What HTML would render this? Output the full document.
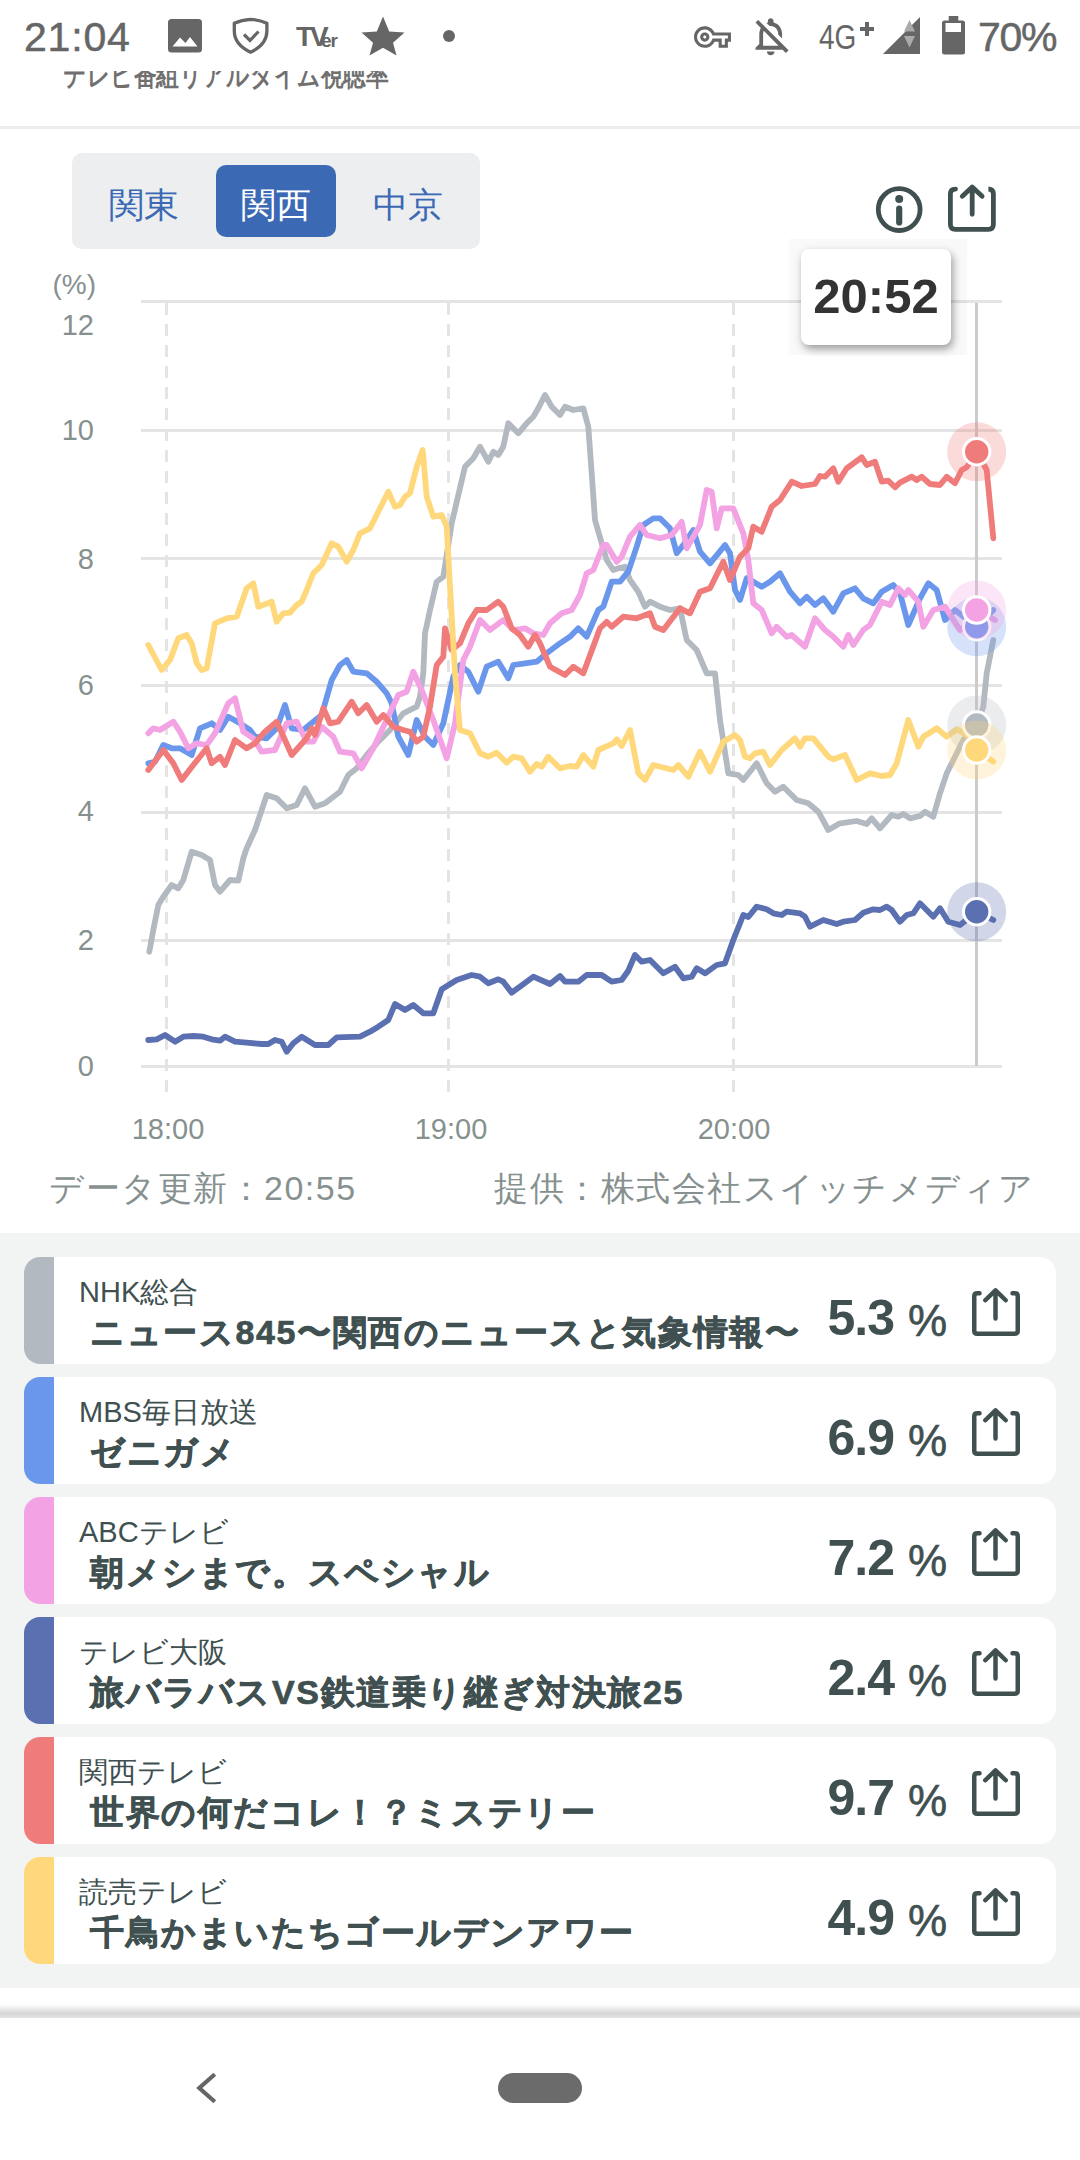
<!DOCTYPE html>
<html><head><meta charset="utf-8">
<style>
html,body{margin:0;padding:0;}
body{width:1080px;height:2160px;position:relative;overflow:hidden;background:#fff;font-family:"Liberation Sans",sans-serif;}
.abs{position:absolute;}
.sb{position:absolute;top:0;left:0;width:1080px;height:71px;background:#fff;}
.sbt{position:absolute;color:#666;font-size:41px;line-height:41px;top:17px;-webkit-text-stroke:0.5px #666;}
.ylab{position:absolute;right:986px;color:#86918f;font-size:29px;line-height:30px;text-align:right;}
.xlab{position:absolute;color:#86918f;font-size:29px;line-height:30px;width:120px;text-align:center;}
.card{position:absolute;left:24px;width:1032px;height:107px;background:#fff;border-radius:16px;overflow:hidden;}
.bar{position:absolute;left:0;top:0;width:30px;height:107px;}
.ch{position:absolute;left:55px;top:19px;font-size:29px;line-height:32px;color:#405050;}
.ti{position:absolute;left:66px;top:55px;font-size:34px;line-height:40px;color:#405050;font-weight:bold;white-space:nowrap;letter-spacing:1.6px;-webkit-text-stroke:0.7px #405050;}
.pct{position:absolute;right:162px;top:34px;font-size:50px;line-height:54px;color:#405050;font-weight:bold;letter-spacing:-1px;}
.pc{position:absolute;left:884px;top:40px;font-size:44px;line-height:48px;color:#405050;-webkit-text-stroke:0.6px #405050;}
.sh{position:absolute;left:946px;top:29px;width:52px;height:52px;}
</style></head><body>
<div class="abs" style="left:63px;top:58px;font-size:30px;line-height:34px;color:#707070;font-weight:bold;letter-spacing:0px;transform:scaleX(0.76);transform-origin:0 0;white-space:nowrap">テレビ番組リアルタイム視聴率</div>
<div class="sb"></div>
<svg class="abs" style="left:0;top:0" width="1080" height="64" viewBox="0 0 1080 64">
<g fill="#666">
<rect x="168" y="19" width="34" height="33.5" rx="3.5"/>
</g>
<path d="M172.5 46.5 L180 37.5 L185.5 43 L190 37 L197.5 46.5 Z" fill="#fff"/>
<path d="M250.6 19.3 Q259.5 19.8 266.9 23.3 V31 Q266.9 44.5 250.6 52.2 Q234.3 44.5 234.3 31 V23.3 Q241.7 19.8 250.6 19.3 Z" fill="none" stroke="#666" stroke-width="3.3" stroke-linejoin="round"/>
<path d="M244 34.5 L250 40.5 L258.5 31.5" fill="none" stroke="#666" stroke-width="3.2"/>
<text x="296" y="46" font-family="Liberation Sans" font-weight="bold" font-size="28" fill="#666" letter-spacing="-3">TV</text>
<text x="321" y="46.5" font-family="Liberation Sans" font-weight="bold" font-size="19" fill="#666" letter-spacing="-1">er</text>
<path d="M383 16.5 L389.2 31.5 L404.5 32.5 L393 42.8 L396.5 55.4 L383 47.8 L369.5 55.4 L373 42.8 L361.5 32.5 L376.8 31.5 Z" fill="#666"/>
<circle cx="449" cy="36" r="6" fill="#666"/>
<path transform="translate(694 18.6) scale(1.54)" fill="#666" d="M22 19h-6v-4h-2.68c-1.14 2.42-3.6 4-6.32 4-3.860 0-7-3.14-7-7s3.14-7 7-7c2.72 0 5.17 1.58 6.32 4H24v6h-2v4zm-4-2h2v-4h2v-2H11.94l-.23-.67C11.01 8.340 9.110 7 7 7c-2.76 0-5 2.24-5 5s2.24 5 5 5c2.11 0 4.01-1.34 4.710-3.33l.23-.67H18v4zM7 15c-1.65 0-3-1.35-3-3s1.35-3 3-3 3 1.35 3 3-1.35 3-3 3zm0-4c-.55 0-1 .45-1 1s.45 1 1 1 1-.45 1-1-.45-1-1-1z"/>
<path transform="translate(747.9 13.55) scale(1.9)" fill="#666" d="M12 22c1.1 0 2-.9 2-2h-4c0 1.1.9 2 2 2zm0-15.5c2.49 0 4 2.02 4 4.5v.1l2 2V11c0-3.07-1.64-5.64-4.5-6.32V4c0-.83-.67-1.5-1.5-1.5s-1.5.67-1.5 1.5v.68c-.24.06-.47.15-.69.23l1.64 1.640c.18-.02.36-.05.55-.05zM5.41 3.35L4 4.76l2.81 2.81C6.29 8.57 6 9.74 6 11v5l-2 2v1h14.24l1.74 1.74 1.41-1.41L5.41 3.35zM16 17H8v-6c0-.68.12-1.32.34-1.9L16 16.76V17z"/>
<path d="M883 54 L920 17 V54 Z" fill="#666"/>
<path d="M909.5 20 L915 31.5 H904 Z M904 36 H915 L909.5 47.5 Z" fill="#aaa"/>
<rect x="942" y="20.5" width="23" height="34" rx="2.5" fill="#666"/>
<rect x="948.7" y="16" width="9.6" height="6" fill="#666"/>
<rect x="945.5" y="23" width="15.5" height="9" fill="#fff"/>
<text x="819" y="49" font-family="Liberation Sans" font-size="35" fill="#666" transform="translate(819 0) scale(0.8 1) translate(-819 0)">4G</text>
<path d="M867 22 V36 M860 29 H874" stroke="#666" stroke-width="4"/>
</svg>
<div class="sbt" style="left:24px;letter-spacing:0.8px">21:04</div>
<div class="sbt" style="left:978px;letter-spacing:-1.3px">70%</div>
<div class="abs" style="left:0;top:126px;width:1080px;height:3px;background:#ececec"></div>
<div class="abs" style="left:72px;top:153px;width:408px;height:96px;background:#eceeef;border-radius:10px"></div>
<div class="abs" style="left:216px;top:165px;width:120px;height:72px;background:#3b69b4;border-radius:10px"></div>
<div class="abs" style="left:72px;top:183px;width:144px;text-align:center;font-size:35px;line-height:44px;color:#3b69b4">関東</div>
<div class="abs" style="left:216px;top:183px;width:120px;text-align:center;font-size:35px;line-height:44px;color:#fff">関西</div>
<div class="abs" style="left:336px;top:183px;width:144px;text-align:center;font-size:35px;line-height:44px;color:#3b69b4">中京</div>
<svg width="1080" height="1110" viewBox="0 0 1080 1110" style="position:absolute;left:0;top:0">
<line x1="141" y1="301.5" x2="1002" y2="301.5" stroke="#e4e4e4" stroke-width="3"/>
<line x1="141" y1="430.5" x2="1002" y2="430.5" stroke="#e4e4e4" stroke-width="3"/>
<line x1="141" y1="558.5" x2="1002" y2="558.5" stroke="#e4e4e4" stroke-width="3"/>
<line x1="141" y1="685.5" x2="1002" y2="685.5" stroke="#e4e4e4" stroke-width="3"/>
<line x1="141" y1="812.5" x2="1002" y2="812.5" stroke="#e4e4e4" stroke-width="3"/>
<line x1="141" y1="940.5" x2="1002" y2="940.5" stroke="#e4e4e4" stroke-width="3"/>
<line x1="141" y1="1066.5" x2="1002" y2="1066.5" stroke="#e4e4e4" stroke-width="3"/>
<line x1="166.5" y1="303" x2="166.5" y2="1096" stroke="#e4e4e4" stroke-width="3" stroke-dasharray="12 9"/>
<line x1="448.5" y1="303" x2="448.5" y2="1096" stroke="#e4e4e4" stroke-width="3" stroke-dasharray="12 9"/>
<line x1="733.5" y1="303" x2="733.5" y2="1096" stroke="#e4e4e4" stroke-width="3" stroke-dasharray="12 9"/>
<line x1="976.5" y1="303" x2="976.5" y2="1066" stroke="#cbcbcb" stroke-width="3"/>
<polyline points="149.3,951.7 153.3,930 158.3,905 163.3,896.7 171.7,885 178.3,888.3 183.3,880 191.7,851.7 201.7,855 210,860 215,885 220,891.7 230,880 238.3,880.7 243.3,858.3 246.7,848.3 255,830 266.7,795 276.7,798.3 286.7,808.3 296.7,805 305,788.3 315,806.7 325,803.3 340,791.7 348.3,775 356.7,768.3 366.7,755 376.7,743.3 390,730 403.3,713.3 416.7,706.7 420,696.7 423.3,673.3 425,633.3 430,610 436.7,581.7 443.3,576.7 451.7,523.3 465,466.7 473.3,458.3 480,446.7 488.3,461.7 493.3,451.7 498.3,455 503.3,446.7 508.3,423.3 518.3,433.3 526.7,423.3 533.3,416.7 538.3,408.3 545,395 551.7,406.7 560,415 565,406.7 573.3,410 583.3,408.3 588.3,426.7 591.7,473.3 595,520 601.7,543.3 606.7,560 613.3,570 618.3,568.3 625,566.7 630,580 638.3,591.7 645,606.7 650,601.7 660,606.7 670,610 680,608.3 686.7,640 696.7,650 706.7,673.3 715,673.3 720,720 728.3,773.3 738.3,775 743.3,780 756.7,763.3 766.7,783.3 775,791.7 783.3,786.7 796.7,800 808.3,803.3 818.3,811.7 828.3,830 840,823.3 856.7,821 866.7,824 871.7,818.3 880,828.3 891.7,815 898.3,816.7 903.3,814 910,818.3 920,816 925,811.7 933.3,816.7 940,793.3 946.7,773.3 955,756.7 963.3,740 976.7,725 983.3,706.7 986.7,673.3 993.3,640" fill="none" stroke="#b3b9c0" stroke-width="5.8" stroke-linejoin="round" stroke-linecap="round"/>
<polyline points="148.3,763.3 155,761.7 163.3,745 171.7,748.3 180,748.3 191.7,755 200,728.3 211.7,723.3 220,730 228.3,716.7 240,723.3 250,730 255,736.7 266.7,738.3 276.7,728.3 285,705 291.7,728.3 303.3,730 313.3,721.7 321.7,715 331.7,680 340,665 346.7,660 353.3,671.7 366.7,673.3 376.7,681.7 386.7,693.3 391.7,703.3 398.3,736.7 408.3,755 416.7,720 425,736.7 433.3,745 443.3,723.3 453.3,676.7 460,665 468.3,671.7 478.3,691.7 486.7,666.7 498.3,661.7 508.3,678.3 513.3,665 525,663.3 536.7,661.7 546.7,653.3 560,643.3 570,636.7 578.3,628.3 586.7,636.7 598.3,610 603.3,606.7 611.7,581.7 620,581.7 628.3,571.7 636.7,546.7 643.3,525 653.3,518.3 660,518.3 670,528.3 676.7,553.3 683.3,545 693.3,530 700,551.7 710,563.3 718.3,553.3 725,545 730,553.3 735,590 740,600 746.7,578.3 753.3,581.7 761.7,586.7 770,581.7 780,573.3 790,591.7 800,603.3 806.7,596.7 815,605 823.3,598.3 833.3,611.7 843.3,593.3 855,588.3 863.3,598.3 873.3,603.3 881.7,591.7 893.3,585 900,593.3 908.3,625 920,598.3 928.3,583.3 936.7,590 945,620 955,610 976.7,626.7 993.3,610" fill="none" stroke="#6a97ec" stroke-width="5.8" stroke-linejoin="round" stroke-linecap="round"/>
<polyline points="148.3,733.3 153.3,728.3 160,730 173.3,721.7 180,731.7 188.3,748.3 196.7,743.3 206.7,745 215,733.3 228.3,703.3 235,698.3 243.3,731.7 253.3,738.3 261.7,751.7 275,750 286.7,723.3 296.7,721.7 306.7,741.7 313.3,741.7 321.7,726.7 333.3,736.7 340,751.7 353.3,753.3 361.7,768.3 373.3,748.3 385,723.3 398.3,695 406.7,691.7 413.3,671.7 421.7,690 433.3,720 446.7,758.3 455,723.3 463.3,660 470,646.7 480,620 490,630 503.3,620 513.3,630 525,628.3 533.3,633.3 543.3,635 550,623.3 561.7,613.3 571.7,610 580,595 586.7,573.3 593.3,570 603.3,545 606.7,545 616.7,561.7 621.7,556.7 630,536.7 640,525 646.7,535 660,538.3 671.7,535 681.7,521.7 686.7,548.3 700,525 706.7,490 711.7,491.7 716.7,528.3 721.7,508.3 733.3,508.3 743.3,533.3 748.3,560 753.3,603.3 761.7,610 771.7,633.3 776.7,626.7 786.7,636.7 791.7,635 805,646.7 815,618.3 825,630 833.3,636.7 843.3,646.7 848.3,635 853.3,645 863.3,630 870,625 881.7,601.7 890,605 898.3,588.3 905,595 908.3,590 918.3,601.7 923.3,626.7 933.3,610 945,606.7 960,630 973.3,620 976.7,610 995,620" fill="none" stroke="#f3a2e3" stroke-width="5.8" stroke-linejoin="round" stroke-linecap="round"/>
<polyline points="148.3,1040 156.7,1039.3 165,1035 175,1041.7 183.3,1036.7 193.3,1036 203.3,1036.7 211.7,1039.3 220,1040.7 225,1036.7 235,1041.7 246.7,1042.7 261.7,1044 268.3,1044 275,1040 281.7,1041.7 286.7,1051.7 293.3,1043.3 301.7,1036.7 315,1045 328.3,1045 336.7,1037.3 360,1036.7 370,1031.7 378.3,1026.7 388.3,1020 395,1004 405,1010 413.3,1005 423.3,1013.3 433.3,1013.3 441.7,989.3 456.7,980 471.7,975 480,976.7 488.3,983.3 498.3,979.3 503.3,981.7 511.7,992.7 520,986.7 533.3,976.7 550,984 560,976 565,981.7 578.3,981.7 586.7,975 601.7,975 611.7,981.7 621.7,980 628.3,970.7 635,955 641.7,961.7 650,960 663.3,973.3 675,966.7 683.3,978.3 691.7,976.7 696.7,968.3 705,973.3 716.7,965 725,963.3 733.3,940 743.3,915 748.3,917 756.7,906.7 766.7,909.3 773.3,913.3 781.7,915 786.7,911.7 800,913.3 805,916.7 810,926.7 823.3,920 836.7,924 843.3,921.7 855,920 863.3,912.7 873.3,909.3 880,910 886.7,906.7 891.7,910 900,921.7 906.7,915 913.3,913.3 920,903.3 933.3,916.7 940,908.3 948.3,921.7 960,925 976.7,911.7 993.3,920" fill="none" stroke="#5b70b1" stroke-width="5.8" stroke-linejoin="round" stroke-linecap="round"/>
<polyline points="148.3,770 163.3,750 173.3,763.3 181.7,780 193.3,765 206.7,748.3 211.7,763.3 220,756.7 225,765 235,740 246.7,748.3 255,743.3 265,731.7 276.7,721.7 291.7,755 306.7,738.3 311.7,728.3 315,735 323.3,708.3 330,723.3 338.3,721.7 351.7,701.7 358.3,713.3 366.7,705 376.7,721.7 383.3,715 393.3,726.7 403.3,730 410,731.7 416.7,741.7 423.3,736.7 430,706.7 436.7,665 443.3,656.7 445,628.3 451.7,650 460,643.3 468.3,623.3 476.7,610 486.7,610 498.3,601.7 503.3,606.7 511.7,628.3 520,635 528.3,646.7 535,635 540,643.3 550,666.7 565,675 573.3,666.7 583.3,673.3 600,628.3 606.7,621.7 611.7,626.7 623.3,616.7 636.7,618.3 650,613.3 655,626.7 663.3,630 680,608.3 690,613.3 700,591.7 710,588.3 723.3,561.7 730,580 740,556.7 748.3,548.3 753.3,526.7 761.7,531.7 771.7,506.7 780,500 791.7,481.7 801.7,486 815,484 820,476 825,476.7 833.3,468.3 838.3,481.7 846.7,468.3 861.7,457.3 866.7,465 875,461.7 881.7,481.7 888.3,480.7 895,487.3 900,482.7 911.7,476.7 916.7,480 921.7,476.7 930,484 940,485 946.7,476.7 955,483.3 961.7,470 966.7,467.3 976.7,451.7 986.7,470 993.3,538.3" fill="none" stroke="#f07b7b" stroke-width="5.8" stroke-linejoin="round" stroke-linecap="round"/>
<polyline points="148.3,645 161.7,670 170,660 178.3,638.3 186.7,635 191.7,643.3 196.7,663.3 201.7,670 206.7,668.3 215,623.3 226.7,618.3 236.7,616.7 246.7,588.3 253.3,583.3 258.3,606.7 271.7,601.7 276.7,621.7 283.3,613.3 290,612.7 296.7,605 301.7,601.7 306.7,590 313.3,573.3 321.7,565 331.7,543.3 338.3,546.7 346.7,561.7 353.3,550 360,533.3 370,528.3 380,508.3 388.3,491.7 395,506.7 400,505 405,496.7 410,493.3 416.7,466.7 422.7,450 426.7,496.7 433.3,516.7 441.7,515 446.7,526.7 450,586.7 455,673.3 460,730 470,733.3 480,753.3 488.3,756.7 496.7,752.7 506.7,762.7 513.3,756.7 521.7,758.3 530,771.7 536.7,764 541.7,766.7 548.3,756.7 560,768.3 570,766 576.7,766.7 583.3,755 593.3,766.7 598.3,750 613.3,743.3 616.7,739.3 621.7,746 630,730 638.3,773.3 645,780 653.3,765 673.3,770 678.3,765 688.3,776.7 700,751.7 710,771.7 723.3,741.7 735,735 740,740 745,756.7 750,758.3 755,753.3 763.3,751.7 770,765 781.7,750 795,738.3 800,746.7 805,738.3 813.3,738.3 828.3,756.7 833.3,759.3 845,755 856.7,780 870,773.3 881.7,776 890,775 896.7,763.3 908.3,720 918.3,746.7 923.3,736.7 936.7,728.3 946.7,736.7 956.7,729.3 966.7,735 976.7,750 993.3,761.7" fill="none" stroke="#ffd87c" stroke-width="5.8" stroke-linejoin="round" stroke-linecap="round"/>
<circle cx="976.7" cy="725" r="29.5" fill="#b3b9c0" fill-opacity="0.28"/>
<circle cx="976.7" cy="725" r="13.2" fill="#b3b9c0" stroke="#fff" stroke-width="3"/>
<circle cx="976.7" cy="626.7" r="29.5" fill="#6a97ec" fill-opacity="0.28"/>
<circle cx="976.7" cy="626.7" r="13.2" fill="#6a97ec" stroke="#fff" stroke-width="3"/>
<circle cx="976.7" cy="610" r="29.5" fill="#f3a2e3" fill-opacity="0.28"/>
<circle cx="976.7" cy="610" r="13.2" fill="#f3a2e3" stroke="#fff" stroke-width="3"/>
<circle cx="976.7" cy="911.7" r="29.5" fill="#5b70b1" fill-opacity="0.28"/>
<circle cx="976.7" cy="911.7" r="13.2" fill="#5b70b1" stroke="#fff" stroke-width="3"/>
<circle cx="976.7" cy="451.7" r="29.5" fill="#f07b7b" fill-opacity="0.28"/>
<circle cx="976.7" cy="451.7" r="13.2" fill="#f07b7b" stroke="#fff" stroke-width="3"/>
<circle cx="976.7" cy="750" r="29.5" fill="#ffd87c" fill-opacity="0.28"/>
<circle cx="976.7" cy="750" r="13.2" fill="#ffd87c" stroke="#fff" stroke-width="3"/>
<circle cx="899.2" cy="209.6" r="20.9" fill="none" stroke="#405050" stroke-width="4.8"/><circle cx="899.2" cy="199" r="4" fill="#405050"/><path d="M899.2 208.5 V222.5" stroke="#405050" stroke-width="6.2" stroke-linecap="round"/>
<path d="M955.5 189.1 H955.4 Q950.4 189.1 950.4 194.1 V224.3 Q950.4 229.3 955.4 229.3 H988.4 Q993.4 229.3 993.4 224.3 V194.1 Q993.4 189.1 988.4 189.1 H989.9" fill="none" stroke="#405050" stroke-width="4.8" stroke-linecap="round"/><path d="M972.2 214.3 V188.5 M962.3 196.3 L972.2 186.9 L982.1 196.3" fill="none" stroke="#405050" stroke-width="4.8" stroke-linecap="round" stroke-linejoin="round"/>
</svg>
<div class="ylab" style="top:270px;font-size:28px;right:984px">(%)</div>
<div class="ylab" style="top:310px">12</div>
<div class="ylab" style="top:415px">10</div>
<div class="ylab" style="top:544px">8</div>
<div class="ylab" style="top:670px">6</div>
<div class="ylab" style="top:796px">4</div>
<div class="ylab" style="top:925px">2</div>
<div class="ylab" style="top:1051px">0</div>
<div class="xlab" style="left:108px;top:1114px">18:00</div>
<div class="xlab" style="left:391px;top:1114px">19:00</div>
<div class="xlab" style="left:674px;top:1114px">20:00</div>
<div class="abs" style="left:789px;top:239px;width:178px;height:116px;background:rgba(0,0,0,0.025)"></div>
<div class="abs" style="left:801px;top:249px;width:150px;height:96px;background:#fff;border-radius:8px;box-shadow:2px 4px 9px rgba(0,0,0,0.38)"></div>
<div class="abs" style="left:801px;top:270px;width:150px;text-align:center;font-size:49px;line-height:52px;font-weight:bold;color:#333">20:52</div>
<div class="abs" style="left:49px;top:1168px;font-size:34px;line-height:40px;color:#86918f;letter-spacing:1.5px">データ更新：20:55</div>
<div class="abs" style="left:494px;top:1168px;font-size:34px;line-height:40px;color:#86918f;letter-spacing:1.5px">提供：株式会社スイッチメディア</div>
<div class="abs" style="left:0;top:1233px;width:1080px;height:755px;background:#f2f3f3"></div>
<div class="card" style="top:1257px"><div class="bar" style="background:#b3b9c0"></div>
<div class="ch">NHK総合</div><div class="ti">ニュース845〜関西のニュースと気象情報〜</div>
<div class="pct">5.3</div><div class="pc">%</div><div class="sh"><svg width="52" height="52" viewBox="0 0 52 52"><path d="M9.5 7.25 H7.25 Q4.25 7.25 4.25 10.25 V44.75 Q4.25 47.75 7.25 47.75 H44.75 Q47.75 47.75 47.75 44.75 V10.25 Q47.75 7.25 44.75 7.25 H42.5" fill="none" stroke="#405050" stroke-width="4.5" stroke-linecap="round"/><path d="M25.5 32.5 V5 M15.25 14.25 L25.5 4.3 L35.75 14.25" fill="none" stroke="#405050" stroke-width="4.5" stroke-linecap="round" stroke-linejoin="round"/></svg></div></div>
<div class="card" style="top:1377px"><div class="bar" style="background:#6a97ec"></div>
<div class="ch">MBS毎日放送</div><div class="ti">ゼニガメ</div>
<div class="pct">6.9</div><div class="pc">%</div><div class="sh"><svg width="52" height="52" viewBox="0 0 52 52"><path d="M9.5 7.25 H7.25 Q4.25 7.25 4.25 10.25 V44.75 Q4.25 47.75 7.25 47.75 H44.75 Q47.75 47.75 47.75 44.75 V10.25 Q47.75 7.25 44.75 7.25 H42.5" fill="none" stroke="#405050" stroke-width="4.5" stroke-linecap="round"/><path d="M25.5 32.5 V5 M15.25 14.25 L25.5 4.3 L35.75 14.25" fill="none" stroke="#405050" stroke-width="4.5" stroke-linecap="round" stroke-linejoin="round"/></svg></div></div>
<div class="card" style="top:1497px"><div class="bar" style="background:#f3a2e3"></div>
<div class="ch">ABCテレビ</div><div class="ti">朝メシまで。スペシャル</div>
<div class="pct">7.2</div><div class="pc">%</div><div class="sh"><svg width="52" height="52" viewBox="0 0 52 52"><path d="M9.5 7.25 H7.25 Q4.25 7.25 4.25 10.25 V44.75 Q4.25 47.75 7.25 47.75 H44.75 Q47.75 47.75 47.75 44.75 V10.25 Q47.75 7.25 44.75 7.25 H42.5" fill="none" stroke="#405050" stroke-width="4.5" stroke-linecap="round"/><path d="M25.5 32.5 V5 M15.25 14.25 L25.5 4.3 L35.75 14.25" fill="none" stroke="#405050" stroke-width="4.5" stroke-linecap="round" stroke-linejoin="round"/></svg></div></div>
<div class="card" style="top:1617px"><div class="bar" style="background:#5b70b1"></div>
<div class="ch">テレビ大阪</div><div class="ti">旅バラバスVS鉄道乗り継ぎ対決旅25</div>
<div class="pct">2.4</div><div class="pc">%</div><div class="sh"><svg width="52" height="52" viewBox="0 0 52 52"><path d="M9.5 7.25 H7.25 Q4.25 7.25 4.25 10.25 V44.75 Q4.25 47.75 7.25 47.75 H44.75 Q47.75 47.75 47.75 44.75 V10.25 Q47.75 7.25 44.75 7.25 H42.5" fill="none" stroke="#405050" stroke-width="4.5" stroke-linecap="round"/><path d="M25.5 32.5 V5 M15.25 14.25 L25.5 4.3 L35.75 14.25" fill="none" stroke="#405050" stroke-width="4.5" stroke-linecap="round" stroke-linejoin="round"/></svg></div></div>
<div class="card" style="top:1737px"><div class="bar" style="background:#f07b7b"></div>
<div class="ch">関西テレビ</div><div class="ti">世界の何だコレ！？ミステリー</div>
<div class="pct">9.7</div><div class="pc">%</div><div class="sh"><svg width="52" height="52" viewBox="0 0 52 52"><path d="M9.5 7.25 H7.25 Q4.25 7.25 4.25 10.25 V44.75 Q4.25 47.75 7.25 47.75 H44.75 Q47.75 47.75 47.75 44.75 V10.25 Q47.75 7.25 44.75 7.25 H42.5" fill="none" stroke="#405050" stroke-width="4.5" stroke-linecap="round"/><path d="M25.5 32.5 V5 M15.25 14.25 L25.5 4.3 L35.75 14.25" fill="none" stroke="#405050" stroke-width="4.5" stroke-linecap="round" stroke-linejoin="round"/></svg></div></div>
<div class="card" style="top:1857px"><div class="bar" style="background:#ffd87c"></div>
<div class="ch">読売テレビ</div><div class="ti">千鳥かまいたちゴールデンアワー</div>
<div class="pct">4.9</div><div class="pc">%</div><div class="sh"><svg width="52" height="52" viewBox="0 0 52 52"><path d="M9.5 7.25 H7.25 Q4.25 7.25 4.25 10.25 V44.75 Q4.25 47.75 7.25 47.75 H44.75 Q47.75 47.75 47.75 44.75 V10.25 Q47.75 7.25 44.75 7.25 H42.5" fill="none" stroke="#405050" stroke-width="4.5" stroke-linecap="round"/><path d="M25.5 32.5 V5 M15.25 14.25 L25.5 4.3 L35.75 14.25" fill="none" stroke="#405050" stroke-width="4.5" stroke-linecap="round" stroke-linejoin="round"/></svg></div></div>
<div class="abs" style="left:0;top:2004px;width:1080px;height:14px;background:linear-gradient(#ffffff,#d6d6d6 70%,#e6e6e6)"></div>
<svg class="abs" style="left:0;top:2040px" width="300" height="100"><path d="M214.8 34.3 L199.3 48 L214.8 61.7" fill="none" stroke="#666" stroke-width="4.2"/></svg>
<div class="abs" style="left:498px;top:2073px;width:84px;height:30px;background:#6b6b6b;border-radius:15px"></div>
</body></html>
